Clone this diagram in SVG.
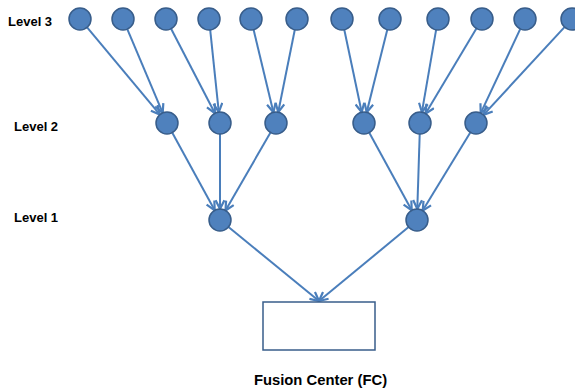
<svg xmlns="http://www.w3.org/2000/svg" width="575" height="389" viewBox="0 0 575 389">
<style>
.n{fill:#4f81bd;stroke:#385d8a;stroke-width:1.5}
.e{stroke:#4a7ebb;stroke-width:2;fill:none;marker-end:url(#ah)}
.lbl{font-family:"Liberation Sans",Arial,sans-serif;font-weight:bold;font-size:13px;fill:#000}
.box{fill:#fff;stroke:#385d8a;stroke-width:1.5}
</style>
<defs>
<marker id="ah" viewBox="0 0 10 10" markerUnits="userSpaceOnUse" markerWidth="11" markerHeight="11" refX="9" refY="5" orient="auto">
<path d="M1,1 L9,5 L1,9" fill="none" stroke="#4a7ebb" stroke-width="2"/>
</marker>
</defs>
<rect width="575" height="389" fill="#fff"/>
<g id="labels">
<text class="lbl" x="8" y="26">Level 3</text>
<text class="lbl" x="14" y="131">Level 2</text>
<text class="lbl" x="14" y="222">Level 1</text>
</g>
<g id="connectors">
<line class="e" x1="87.1" y1="27.4" x2="159.9" y2="114.6"/>
<line class="e" x1="127.3" y1="29.1" x2="162.7" y2="112.9"/>
<line class="e" x1="171.1" y1="28.8" x2="214.9" y2="113.2"/>
<line class="e" x1="210.2" y1="29.9" x2="218.8" y2="112.1"/>
<line class="e" x1="253.6" y1="29.7" x2="273.4" y2="112.3"/>
<line class="e" x1="294.8" y1="29.8" x2="278.2" y2="112.2"/>
<line class="e" x1="344.3" y1="29.8" x2="361.7" y2="112.2"/>
<line class="e" x1="387.3" y1="29.7" x2="366.7" y2="112.3"/>
<line class="e" x1="436.1" y1="29.8" x2="421.9" y2="112.2"/>
<line class="e" x1="476.4" y1="28.4" x2="425.6" y2="113.6"/>
<line class="e" x1="520.3" y1="28.9" x2="480.7" y2="113.1"/>
<line class="e" x1="564.5" y1="27.1" x2="483.5" y2="114.9"/>
<line class="e" x1="172.3" y1="132.7" x2="214.7" y2="210.3"/>
<line class="e" x1="220" y1="134" x2="220" y2="209"/>
<line class="e" x1="270.5" y1="132.5" x2="225.5" y2="210.5"/>
<line class="e" x1="369.3" y1="132.7" x2="411.7" y2="210.3"/>
<line class="e" x1="419.7" y1="134" x2="417.3" y2="209"/>
<line class="e" x1="470.3" y1="132.4" x2="422.7" y2="210.6"/>
<line class="e" x1="228.5" y1="227" x2="319" y2="301"/>
<line class="e" x1="408.6" y1="227.1" x2="319" y2="301"/>
</g>
<g id="level3">
<circle id="l3-1" class="n" cx="80" cy="19" r="11"/>
<circle id="l3-2" class="n" cx="123" cy="19" r="11"/>
<circle id="l3-3" class="n" cx="166" cy="19" r="11"/>
<circle id="l3-4" class="n" cx="209" cy="19" r="11"/>
<circle id="l3-5" class="n" cx="251" cy="19" r="11"/>
<circle id="l3-6" class="n" cx="297" cy="19" r="11"/>
<circle id="l3-7" class="n" cx="342" cy="19" r="11"/>
<circle id="l3-8" class="n" cx="390" cy="19" r="11"/>
<circle id="l3-9" class="n" cx="438" cy="19" r="11"/>
<circle id="l3-10" class="n" cx="482" cy="19" r="11"/>
<circle id="l3-11" class="n" cx="525" cy="19" r="11"/>
<circle id="l3-12" class="n" cx="572" cy="19" r="11"/>
</g>
<g id="level2">
<circle id="l2-1" class="n" cx="167" cy="123" r="11"/>
<circle id="l2-2" class="n" cx="220" cy="123" r="11"/>
<circle id="l2-3" class="n" cx="276" cy="123" r="11"/>
<circle id="l2-4" class="n" cx="364" cy="123" r="11"/>
<circle id="l2-5" class="n" cx="420" cy="123" r="11"/>
<circle id="l2-6" class="n" cx="476" cy="123" r="11"/>
</g>
<g id="level1">
<circle id="l1-1" class="n" cx="220" cy="220" r="11"/>
<circle id="l1-2" class="n" cx="417" cy="220" r="11"/>
</g>
<g id="fc">
<rect class="box" x="263" y="302" width="112" height="48"/>
<text class="lbl" x="320.5" y="385" text-anchor="middle" style="font-size:14.8px">Fusion Center (FC)</text>
</g>
</svg>
